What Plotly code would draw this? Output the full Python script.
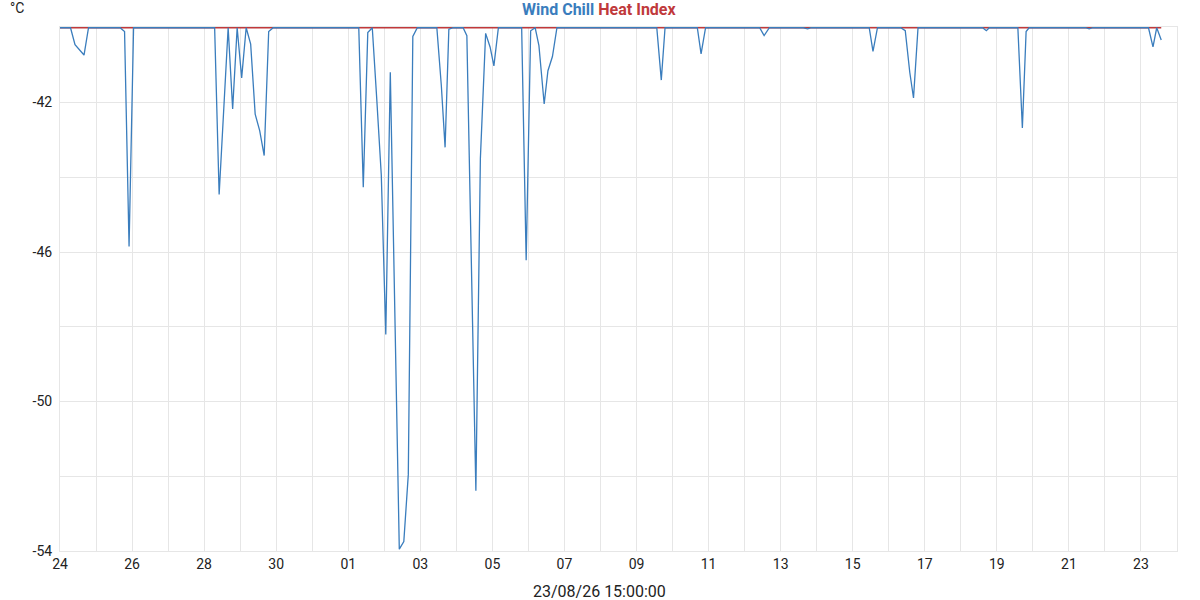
import plotly.graph_objects as go

# Wind Chill readings (time, °C)
wind_chill_times = [
    "2026-07-24 00:00", "2026-07-24 07:00", "2026-07-24 10:00", "2026-07-24 16:00", "2026-07-24 19:00",
    "2026-07-25 16:00", "2026-07-25 19:00", "2026-07-25 22:00", "2026-07-26 01:00",
    "2026-07-28 07:00", "2026-07-28 10:00", "2026-07-28 16:00", "2026-07-28 19:00", "2026-07-28 22:00",
    "2026-07-29 01:00", "2026-07-29 04:00", "2026-07-29 07:00", "2026-07-29 10:00", "2026-07-29 13:00",
    "2026-07-29 16:00", "2026-07-29 19:00", "2026-07-29 22:00",
    "2026-08-01 07:00", "2026-08-01 10:00", "2026-08-01 13:00", "2026-08-01 16:00", "2026-08-01 19:00",
    "2026-08-01 22:00", "2026-08-02 01:00", "2026-08-02 04:00", "2026-08-02 10:00", "2026-08-02 13:00",
    "2026-08-02 16:00", "2026-08-02 19:00", "2026-08-02 22:00",
    "2026-08-03 11:00", "2026-08-03 14:00", "2026-08-03 16:30", "2026-08-03 19:00", "2026-08-03 22:00",
    "2026-08-04 04:30", "2026-08-04 07:00", "2026-08-04 13:00", "2026-08-04 16:00", "2026-08-04 19:30",
    "2026-08-04 22:30", "2026-08-05 01:00", "2026-08-05 04:00",
    "2026-08-05 19:30", "2026-08-05 22:30", "2026-08-06 01:30", "2026-08-06 04:30", "2026-08-06 07:00",
    "2026-08-06 10:30", "2026-08-06 13:00", "2026-08-06 16:00", "2026-08-06 19:00",
    "2026-08-09 13:30", "2026-08-09 16:30", "2026-08-09 19:00",
    "2026-08-10 16:30", "2026-08-10 19:00", "2026-08-10 22:00",
    "2026-08-12 10:00", "2026-08-12 13:00", "2026-08-12 16:30",
    "2026-08-13 15:00", "2026-08-13 18:00", "2026-08-13 20:30",
    "2026-08-15 11:00", "2026-08-15 13:30", "2026-08-15 16:30",
    "2026-08-16 08:00", "2026-08-16 11:00", "2026-08-16 14:00", "2026-08-16 16:30", "2026-08-16 19:30",
    "2026-08-18 14:30", "2026-08-18 17:00", "2026-08-18 19:00",
    "2026-08-19 14:00", "2026-08-19 17:00", "2026-08-19 19:30", "2026-08-19 21:30",
    "2026-08-21 11:00", "2026-08-21 13:30", "2026-08-21 16:00",
    "2026-08-23 05:00", "2026-08-23 08:00", "2026-08-23 10:30", "2026-08-23 13:30",
]
wind_chill_values = [
    -40.0, -40.0, -40.45, -40.73, -40.0,
    -40.0, -40.1, -45.85, -40.0,
    -40.0, -44.46, -40.0, -42.17, -40.0,
    -41.34, -40.0, -40.44, -42.31, -42.75,
    -43.42, -40.1, -40.0,
    -40.0, -44.27, -40.13, -40.0, -41.92,
    -43.94, -48.21, -41.19, -53.95, -53.75,
    -51.95, -40.23, -40.0,
    -40.0, -41.55, -43.2, -40.04, -40.0,
    -40.0, -40.21, -52.39, -43.5, -40.15,
    -40.52, -41.02, -40.0,
    -40.0, -46.22, -40.08, -40.0, -40.48,
    -42.04, -41.15, -40.77, -40.0,
    -40.0, -41.4, -40.0,
    -40.0, -40.7, -40.0,
    -40.0, -40.21, -40.0,
    -40.0, -40.03, -40.0,
    -40.0, -40.63, -40.0,
    -40.0, -40.08, -41.19, -41.88, -40.0,
    -40.0, -40.08, -40.0,
    -40.0, -42.68, -40.1, -40.0,
    -40.0, -40.03, -40.0,
    -40.0, -40.51, -40.0, -40.33,
]

# Heat Index readings (time, °C)
heat_index_times = ["2026-07-24 00:00", "2026-08-23 13:30"]
heat_index_values = [-40.0, -40.0]

# Axis labels
y_tick_values = [-54, -50, -46, -42]
y_tick_labels = ["-54", "-50", "-46", "-42"]
x_range = ["2026-07-24 00:00", "2026-08-24 00:00"]
y_range = [-54, -39.98]
x_title = "23/08/26 15:00:00"
y_unit = "°C"

BLUE = "#3a7dbd"
RED = "#c0393b"
GRID = "#e6e6e6"
TEXT = "#222222"
FONT = "Roboto"

fig = go.Figure()
fig.add_trace(go.Scatter(x=heat_index_times, y=heat_index_values, mode="lines",
                         name="Heat Index", line=dict(color=RED, width=1.4)))
fig.add_trace(go.Scatter(x=wind_chill_times, y=wind_chill_values, mode="lines",
                         name="Wind Chill", line=dict(color=BLUE, width=1.3)))

fig.update_layout(
    width=1200, height=600,
    margin=dict(l=60, r=23, t=27, b=49),
    paper_bgcolor="white", plot_bgcolor="white",
    showlegend=False,
    font=dict(family=FONT, size=14, color=TEXT),
    annotations=[
        dict(text=f"<b><span style='color:{BLUE}'>Wind Chill</span> <span style='color:{RED}'>Heat Index</span></b>",
             xref="paper", yref="paper", x=0.4834, y=1.034, xanchor="center", yanchor="middle",
             showarrow=False, font=dict(family=FONT, size=16)),
        dict(text=y_unit, xref="paper", yref="paper", x=-0.0385, y=1.036,
             xanchor="center", yanchor="middle", showarrow=False,
             font=dict(family=FONT, size=14, color=TEXT)),
        dict(text=x_title, xref="paper", yref="paper", x=0.4834, y=-0.0775,
             xanchor="center", yanchor="middle", showarrow=False,
             font=dict(family=FONT, size=16, color=TEXT)),
    ],
)

fig.update_xaxes(
    type="date", range=x_range,
    tick0="2026-07-24", dtick=2 * 86400000, tickformat="%d",
    showgrid=True, gridcolor=GRID, gridwidth=1,
    minor=dict(dtick=86400000, tick0="2026-07-24", showgrid=True, gridcolor=GRID, gridwidth=1),
    showline=True, linecolor=GRID, mirror=True, zeroline=False,
    ticks="", ticklabelstandoff=0,
    tickfont=dict(family=FONT, size=14, color=TEXT),
)
fig.update_yaxes(
    range=y_range, tickmode="array", tickvals=y_tick_values, ticktext=y_tick_labels,
    showgrid=True, gridcolor=GRID, gridwidth=1,
    minor=dict(dtick=2, tick0=-54, showgrid=True, gridcolor=GRID, gridwidth=1),
    showline=True, linecolor=GRID, mirror=True, zeroline=False,
    ticks="", ticklabelstandoff=4,
    tickfont=dict(family=FONT, size=14, color=TEXT),
)

# remove the page's default body margin so the 1200x600 figure fills the window
fig.write_html("out.html",
               config={"displayModeBar": False},
               post_script="document.body.style.margin='0';document.body.style.overflow='hidden';")
